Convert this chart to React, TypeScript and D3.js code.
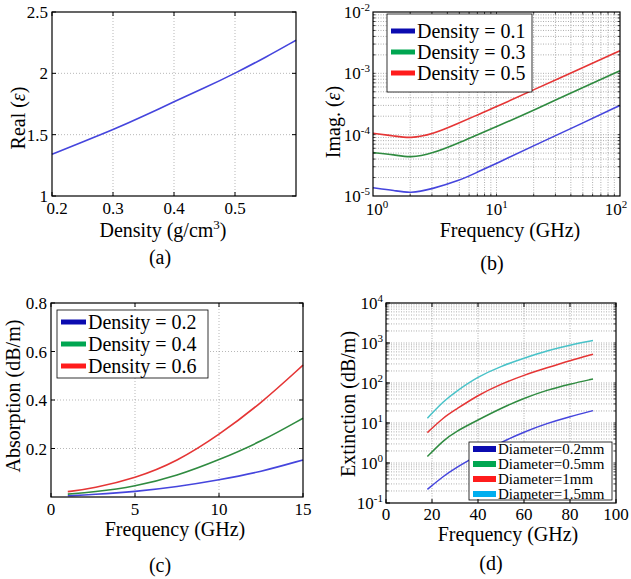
import React from 'react';
import * as d3 from 'd3';

const FONT = '"Liberation Serif", "Times New Roman", serif';

// (a) real part of permittivity vs density
const densityA = [0.2, 0.25, 0.3, 0.35, 0.4, 0.45, 0.5, 0.55, 0.6];
const realA = [1.34, 1.44, 1.54, 1.65, 1.77, 1.88, 2.0, 2.13, 2.27];

// (b) imaginary part vs frequency
const freqB = [1, 1.5, 2, 3, 5, 7, 10, 20, 50, 100];
const imagB01 = [1.36e-5, 1.23e-5, 1.1e-5, 1.3e-5, 1.78e-5, 2.45e-5, 3.4e-5, 6.6e-5, 1.55e-4, 3.0e-4];
const imagB03 = [5.1e-5, 4.7e-5, 4.2e-5, 4.9e-5, 7.4e-5, 1.0e-4, 1.35e-4, 2.5e-4, 5.9e-4, 1.1e-3];
const imagB05 = [1.05e-4, 0.95e-4, 0.87e-4, 1.0e-4, 1.55e-4, 2.1e-4, 2.85e-4, 5.4e-4, 1.24e-3, 2.34e-3];
const legendB = ['Density = 0.1', 'Density = 0.3', 'Density = 0.5'];

// (c) absorption vs frequency
const freqC = [1, 2.5, 5, 7.5, 10, 12.5, 15];
const absC02 = [0.005, 0.01, 0.022, 0.042, 0.07, 0.104, 0.153];
const absC04 = [0.012, 0.02, 0.043, 0.087, 0.153, 0.228, 0.325];
const absC06 = [0.022, 0.036, 0.077, 0.146, 0.256, 0.386, 0.544];
const legendC = ['Density = 0.2', 'Density = 0.4', 'Density = 0.6'];

// (d) extinction vs frequency
const freqD = [18, 25, 30, 40, 50, 60, 70, 80, 90];
const extD02 = [0.22, 0.47, 0.74, 1.58, 3.3, 6.0, 9.8, 14.5, 20.4];
const extD05 = [1.45, 3.7, 6.0, 11.9, 23.4, 41.7, 67, 94, 126];
const extD1 = [5.75, 13.8, 21, 50, 94, 158, 240, 363, 525];
const extD15 = [13.2, 35, 59, 145, 263, 417, 646, 891, 1150];
const legendD = ['Diameter=0.2mm', 'Diameter=0.5mm', 'Diameter=1mm', 'Diameter=1.5mm'];

const lineCol = { blue: '#4545dd', green: '#2f8b40', red: '#e53535', cyan: '#48c2c8' };
const legCol = { blue: '#0b0bb0', green: '#00a651', red: '#ff1c1c', cyan: '#00aeef' };

const linePath = (xs: number[], ys: number[], x: any, y: any) =>
  d3.line<number>()
    .x((_, i) => x(xs[i]))
    .y(d => y(d))
    .curve(d3.curveBasis)(ys) || '';

const Pow = ({ x, y, exp, anchor }: any) => (
  <text x={x} y={y} textAnchor={anchor} fontSize={17}>
    10<tspan dy={-7} fontSize={11}>{exp}</tspan>
  </text>
);

const logMinor = (lo: number, hi: number) => {
  const out: number[] = [];
  for (let e = Math.floor(Math.log10(lo)); 10 ** e < hi; e++) {
    for (let k = 1; k < 10; k++) {
      const v = k * 10 ** e;
      if (v > lo * 1.0001 && v < hi * 0.9999) out.push(v);
    }
  }
  return out;
};

const Legend = ({ x, y, w, h, items, colors, rows, fs, lx }: any) => (
  <g>
    <rect x={x} y={y} width={w} height={h} fill="#fff" stroke="#000" strokeWidth={0.8} />
    {items.map((t: string, i: number) => (
      <g key={t}>
        <line x1={x + 4} x2={x + 4 + lx} y1={rows[i]} y2={rows[i]} stroke={colors[i]} strokeWidth={fs > 17 ? 5 : 6} />
        <text x={x + lx + 6} y={rows[i] + fs * 0.33} fontSize={fs}>{t}</text>
      </g>
    ))}
  </g>
);

const grid = { stroke: '#9a9a9a', strokeWidth: 0.7, strokeDasharray: '1,2' };
const denseGrid = { stroke: '#8c8c8c', strokeWidth: 0.7, strokeDasharray: '1,1.5' };
const T = 4;

function PanelA() {
  const x = d3.scaleLinear().domain([0.2, 0.6]).range([52, 296]);
  const y = d3.scaleLinear().domain([1, 2.5]).range([196, 12]);
  const xt = [0.2, 0.3, 0.4, 0.5];
  const yt = [1, 1.5, 2, 2.5];
  return (
    <g>
      {xt.slice(1).map(v => <line key={v} x1={x(v)} x2={x(v)} y1={12} y2={196} {...grid} />)}
      {yt.slice(1, 3).map(v => <line key={v} x1={52} x2={296} y1={y(v)} y2={y(v)} {...grid} />)}
      <path d={linePath(densityA, realA, x, y)} fill="none" stroke={lineCol.blue} strokeWidth={1.6} />
      <rect x={52} y={12} width={244} height={184} fill="none" stroke="#000" strokeWidth={1.2} />
      {xt.map(v => <g key={v}>
        <line x1={x(v)} x2={x(v)} y1={196} y2={196 - T} stroke="#000" />
        <line x1={x(v)} x2={x(v)} y1={12} y2={12 + T} stroke="#000" />
        <text x={x(v) + (v === 0.2 ? 5 : 0)} y={214} textAnchor="middle" fontSize={17}>{d3.format('.1f')(v)}</text>
      </g>)}
      {yt.map(v => <g key={v}>
        <line x1={52} x2={52 + T} y1={y(v)} y2={y(v)} stroke="#000" />
        <line x1={296} x2={296 - T} y1={y(v)} y2={y(v)} stroke="#000" />
        <text x={48} y={y(v) + 6} textAnchor="end" fontSize={17}>{d3.format('~g')(v)}</text>
      </g>)}
      <text x={163} y={237} textAnchor="middle" fontSize={20}>Density (g/cm<tspan dy={-8} fontSize={13}>3</tspan><tspan dy={8}>)</tspan></text>
      <text transform="translate(25,118) rotate(-90)" textAnchor="middle" fontSize={20}>Real (<tspan fontStyle="italic">ε</tspan>)</text>
      <text x={160} y={264} textAnchor="middle" fontSize={20}>(a)</text>
    </g>
  );
}

function PanelB() {
  const L = 373, R = 620, Tp = 12, B = 196;
  const x = d3.scaleLog().domain([1, 100]).range([L, R]);
  const y = d3.scaleLog().domain([1e-5, 1e-2]).range([B, Tp]);
  const xMinor = logMinor(1, 100);
  const yMinor = logMinor(1e-5, 1e-2);
  return (
    <g>
      {xMinor.map(v => <line key={'x' + v} x1={x(v)} x2={x(v)} y1={Tp} y2={B} {...denseGrid} />)}
      {yMinor.map(v => <line key={'y' + v} x1={L} x2={R} y1={y(v)} y2={y(v)} {...denseGrid} />)}
      {[imagB01, imagB03, imagB05].map((s, i) => (
        <path key={i} d={linePath(freqB, s, x, y)} fill="none"
          stroke={[lineCol.blue, lineCol.green, lineCol.red][i]} strokeWidth={1.6} />
      ))}
      {xMinor.map(v => <g key={'tx' + v}>
        <line x1={x(v)} x2={x(v)} y1={B} y2={B - 2.5} stroke="#000" strokeWidth={0.7} />
        <line x1={x(v)} x2={x(v)} y1={Tp} y2={Tp + 2.5} stroke="#000" strokeWidth={0.7} />
      </g>)}
      {yMinor.map(v => <g key={'ty' + v}>
        <line x1={L} x2={L + 2.5} y1={y(v)} y2={y(v)} stroke="#000" strokeWidth={0.7} />
        <line x1={R} x2={R - 2.5} y1={y(v)} y2={y(v)} stroke="#000" strokeWidth={0.7} />
      </g>)}
      <Legend x={387} y={14} w={145} h={78} items={legendB}
        colors={[legCol.blue, legCol.green, legCol.red]} rows={[31, 52, 73]} fs={20} lx={24} />
      <rect x={L} y={Tp} width={R - L} height={B - Tp} fill="none" stroke="#000" strokeWidth={1.2} />
      {[0, 1, 2].map(e => <Pow key={e} x={x(10 ** e) + (e === 2 ? -4 : e === 0 ? 4 : 0)} y={215} exp={e} anchor="middle" />)}
      {[-2, -3, -4, -5].map(e => <Pow key={e} x={L - 3} y={y(10 ** e) + 6} exp={e} anchor="end" />)}
      <text x={510} y={237} textAnchor="middle" fontSize={20}>Frequency (GHz)</text>
      <text transform="translate(340,122) rotate(-90)" textAnchor="middle" fontSize={20}>Imag. (<tspan fontStyle="italic">ε</tspan>)</text>
      <text x={492} y={270} textAnchor="middle" fontSize={20}>(b)</text>
    </g>
  );
}

function PanelC() {
  const L = 51, R = 303, Tp = 303, B = 497;
  const x = d3.scaleLinear().domain([0, 15]).range([L, R]);
  const y = d3.scaleLinear().domain([0, 0.8]).range([B, Tp]);
  const xt = [0, 5, 10, 15];
  const yt = [0.2, 0.4, 0.6, 0.8];
  return (
    <g>
      {[5, 10].map(v => <line key={v} x1={x(v)} x2={x(v)} y1={Tp} y2={B} {...grid} />)}
      {[0.2, 0.4, 0.6].map(v => <line key={v} x1={L} x2={R} y1={y(v)} y2={y(v)} {...grid} />)}
      {[absC02, absC04, absC06].map((s, i) => (
        <path key={i} d={linePath(freqC, s, x, y)} fill="none"
          stroke={[lineCol.blue, lineCol.green, lineCol.red][i]} strokeWidth={1.6} />
      ))}
      <Legend x={57} y={310} w={151} h={68} items={legendC}
        colors={[legCol.blue, legCol.green, legCol.red]} rows={[322, 344, 366]} fs={20} lx={25} />
      <rect x={L} y={Tp} width={R - L} height={B - Tp} fill="none" stroke="#000" strokeWidth={1.2} />
      {xt.map(v => <g key={v}>
        <line x1={x(v)} x2={x(v)} y1={B} y2={B - T} stroke="#000" />
        <line x1={x(v)} x2={x(v)} y1={Tp} y2={Tp + T} stroke="#000" />
        <text x={x(v)} y={515} textAnchor="middle" fontSize={17}>{v}</text>
      </g>)}
      {yt.map(v => <g key={v}>
        <line x1={L} x2={L + T} y1={y(v)} y2={y(v)} stroke="#000" />
        <line x1={R} x2={R - T} y1={y(v)} y2={y(v)} stroke="#000" />
        <text x={47} y={y(v) + 6} textAnchor="end" fontSize={17}>{d3.format('.1f')(v)}</text>
      </g>)}
      <text x={175} y={536} textAnchor="middle" fontSize={20}>Frequency (GHz)</text>
      <text transform="translate(20,396) rotate(-90)" textAnchor="middle" fontSize={20}>Absorption (dB/m)</text>
      <text x={160} y={572} textAnchor="middle" fontSize={20}>(c)</text>
    </g>
  );
}

function PanelD() {
  const L = 386, R = 616, Tp = 303, B = 503;
  const x = d3.scaleLinear().domain([0, 100]).range([L, R]);
  const y = d3.scaleLog().domain([0.1, 1e4]).range([B, Tp]);
  const yMinor = logMinor(0.1, 1e4);
  const xt = [0, 20, 40, 60, 80, 100];
  return (
    <g>
      {yMinor.map(v => <line key={'y' + v} x1={L} x2={R} y1={y(v)} y2={y(v)} {...denseGrid} />)}
      {[20, 40, 60, 80].map(v => <line key={v} x1={x(v)} x2={x(v)} y1={Tp} y2={B} {...denseGrid} />)}
      {[extD02, extD05, extD1, extD15].map((s, i) => (
        <path key={i} d={linePath(freqD, s, x, y)} fill="none"
          stroke={[lineCol.blue, lineCol.green, lineCol.red, lineCol.cyan][i]} strokeWidth={1.5} />
      ))}
      {yMinor.map(v => <g key={'t' + v}>
        <line x1={L} x2={L + 2.5} y1={y(v)} y2={y(v)} stroke="#000" strokeWidth={0.7} />
        <line x1={R} x2={R - 2.5} y1={y(v)} y2={y(v)} stroke="#000" strokeWidth={0.7} />
      </g>)}
      <Legend x={469} y={442} w={143} h={58} items={legendD}
        colors={[legCol.blue, legCol.green, legCol.red, legCol.cyan]} rows={[449, 464, 479, 494]} fs={15} lx={23} />
      <rect x={L} y={Tp} width={R - L} height={B - Tp} fill="none" stroke="#000" strokeWidth={1.2} />
      {xt.map(v => <g key={v}>
        <line x1={x(v)} x2={x(v)} y1={B} y2={B - T} stroke="#000" />
        <line x1={x(v)} x2={x(v)} y1={Tp} y2={Tp + T} stroke="#000" />
        <text x={x(v)} y={520} textAnchor="middle" fontSize={17}>{v}</text>
      </g>)}
      {[4, 3, 2, 1, 0, -1].map(e => <g key={e}>
        <line x1={L} x2={L + T} y1={y(10 ** e)} y2={y(10 ** e)} stroke="#000" />
        <Pow x={L - 3} y={y(10 ** e) + 6} exp={e} anchor="end" />
      </g>)}
      <text x={508} y={541} textAnchor="middle" fontSize={20}>Frequency (GHz)</text>
      <text transform="translate(355,404) rotate(-90)" textAnchor="middle" fontSize={20}>Extinction (dB/m)</text>
      <text x={491} y={570} textAnchor="middle" fontSize={20}>(d)</text>
    </g>
  );
}

export default function App() {
  return (
    <svg width={631} height={579} style={{ position: 'absolute', left: 0, top: 0, background: '#fff' }}
      fontFamily={FONT} fill="#000">
      <rect width={631} height={579} fill="#fff" />
      <PanelA />
      <PanelB />
      <PanelC />
      <PanelD />
    </svg>
  );
}
